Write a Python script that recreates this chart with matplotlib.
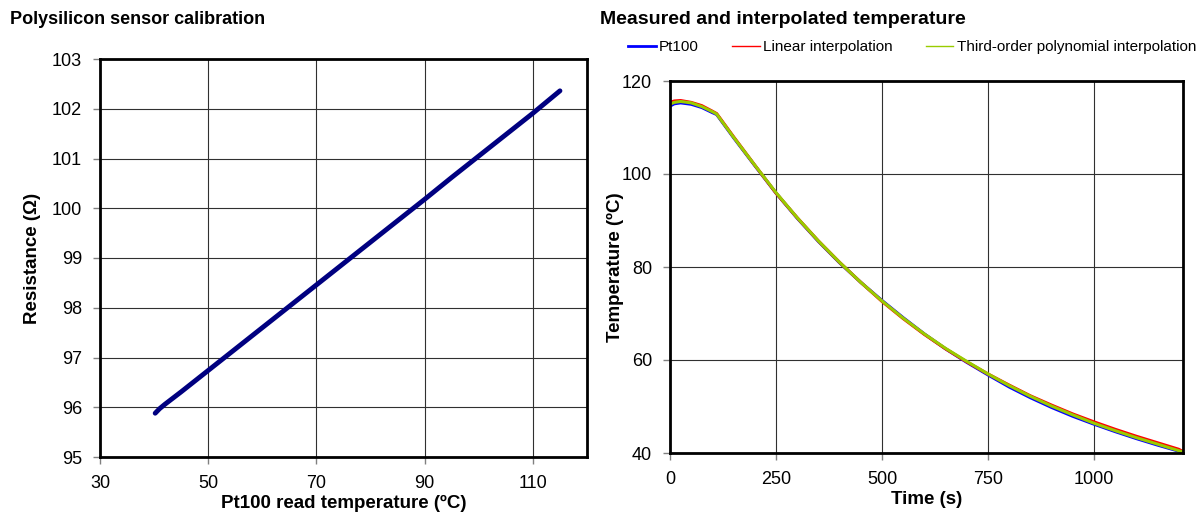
# Polysilicon sensor calibration + measured / interpolated temperature curves
import matplotlib
matplotlib.use("Agg")
import matplotlib.pyplot as plt

plt.rcParams['font.family'] = ['Liberation Sans', 'DejaVu Sans']

# Calibration data (Pt100 temperature in ºC vs polysilicon resistance in ohm)
calib_temp = [40.2, 41.0, 42.0, 45.0, 50.0, 55.0, 60.0, 65.0, 70.0, 75.0,
              80.0, 85.0, 90.0, 95.0, 100.0, 105.0, 110.0, 115.0]
calib_res = [95.88, 95.97, 96.06, 96.31, 96.74, 97.17, 97.60, 98.03, 98.46, 98.89,
             99.32, 99.75, 100.18, 100.62, 101.05, 101.48, 101.91, 102.36]

# Cooling curve (time in s)
time_s = [0, 10, 25, 50, 75, 100, 110, 150, 200, 250, 300, 350, 400, 450, 500,
          550, 600, 650, 700, 750, 800, 850, 900, 950, 1000, 1050, 1100, 1150, 1200, 1210]
pt100 = [114.6, 115.1, 115.3, 115.0, 114.3, 113.2, 112.8, 107.8, 101.8, 95.9,
         90.5, 85.5, 80.9, 76.7, 72.8, 69.1, 65.6, 62.4, 59.5, 56.8,
         54.2, 51.9, 49.8, 47.9, 46.2, 44.6, 43.1, 41.7, 40.4, 40.1]
linear = [115.4, 115.7, 115.8, 115.4, 114.7, 113.5, 113.0, 108.0, 101.9, 95.9,
          90.6, 85.6, 81.0, 76.7, 72.6, 68.9, 65.5, 62.4, 59.6, 57.0,
          54.6, 52.3, 50.3, 48.4, 46.7, 45.1, 43.6, 42.2, 40.8, 40.3]
poly3 = [115.0, 115.4, 115.6, 115.3, 114.5, 113.4, 112.9, 107.9, 101.9, 96.0,
         90.6, 85.6, 81.0, 76.7, 72.7, 69.0, 65.6, 62.5, 59.7, 57.0,
         54.5, 52.2, 50.1, 48.2, 46.4, 44.8, 43.3, 41.9, 40.5, 40.2]

calib_xticks = [30, 50, 70, 90, 110]
calib_yticks = [95, 96, 97, 98, 99, 100, 101, 102, 103]
temp_xticks = [0, 250, 500, 750, 1000]
temp_yticks = [40, 60, 80, 100, 120]

W, H = 1201, 518
fig = plt.figure(figsize=(W / 100, H / 100), dpi=100)

ax1 = fig.add_axes([100 / W, (H - 457) / H, 487 / W, 398 / H])
ax2 = fig.add_axes([670 / W, (H - 453) / H, 513 / W, 372 / H])


def style(ax):
    ax.grid(True, color='#303030', lw=0.8)
    ax.set_axisbelow(True)
    for s in ax.spines.values():
        s.set_linewidth(2)
        s.set_color('black')
    ax.tick_params(direction='out', length=5, width=1, color='#808080',
                   labelsize=13, pad=8)


ax1.plot(calib_temp, calib_res, color='#000080', lw=3.5, solid_capstyle='round')
ax1.set_xlim(30, 120)
ax1.set_ylim(95, 103)
ax1.set_xticks(calib_xticks)
ax1.set_yticks(calib_yticks)
style(ax1)
ax1.set_xlabel('Pt100 read temperature (ºC)', fontsize=13.5, fontweight='bold', labelpad=2)
ax1.set_ylabel('Resistance (Ω)', fontsize=13.5, fontweight='bold', labelpad=8)

l1, = ax2.plot(time_s, pt100, color='#0000FF', lw=2.2)
l2, = ax2.plot(time_s, linear, color='#FF0000', lw=2.2)
l3, = ax2.plot(time_s, poly3, color='#99CC00', lw=2.2)
ax2.set_xlim(0, 1210)
ax2.set_ylim(40, 120)
ax2.set_xticks(temp_xticks)
ax2.set_yticks(temp_yticks)
style(ax2)
ax2.set_xlabel('Time (s)', fontsize=13.5, fontweight='bold', labelpad=2)
ax2.set_ylabel('Temperature (ºC)', fontsize=13.5, fontweight='bold', labelpad=-2)

fig.text(10 / W, 1 - 20 / H, 'Polysilicon sensor calibration',
         fontsize=13, fontweight='bold', va='center', ha='left')
fig.text(600 / W, 1 - 20 / H, 'Measured and interpolated temperature',
         fontsize=14, fontweight='bold', va='center', ha='left')

handles = [plt.Line2D([], [], color='#0000FF', lw=2),
           plt.Line2D([], [], color='#FF0000', lw=1),
           plt.Line2D([], [], color='#99CC00', lw=1)]
fig.legend(handles, ['Pt100', 'Linear interpolation', 'Third-order polynomial interpolation'],
           loc='center', bbox_to_anchor=(912 / W, 1 - 47 / H), ncol=3, frameon=False,
           fontsize=11, handlelength=1.8, handletextpad=0.2, columnspacing=2.2,
           borderpad=0)

fig.savefig('out.png', dpi=100)
